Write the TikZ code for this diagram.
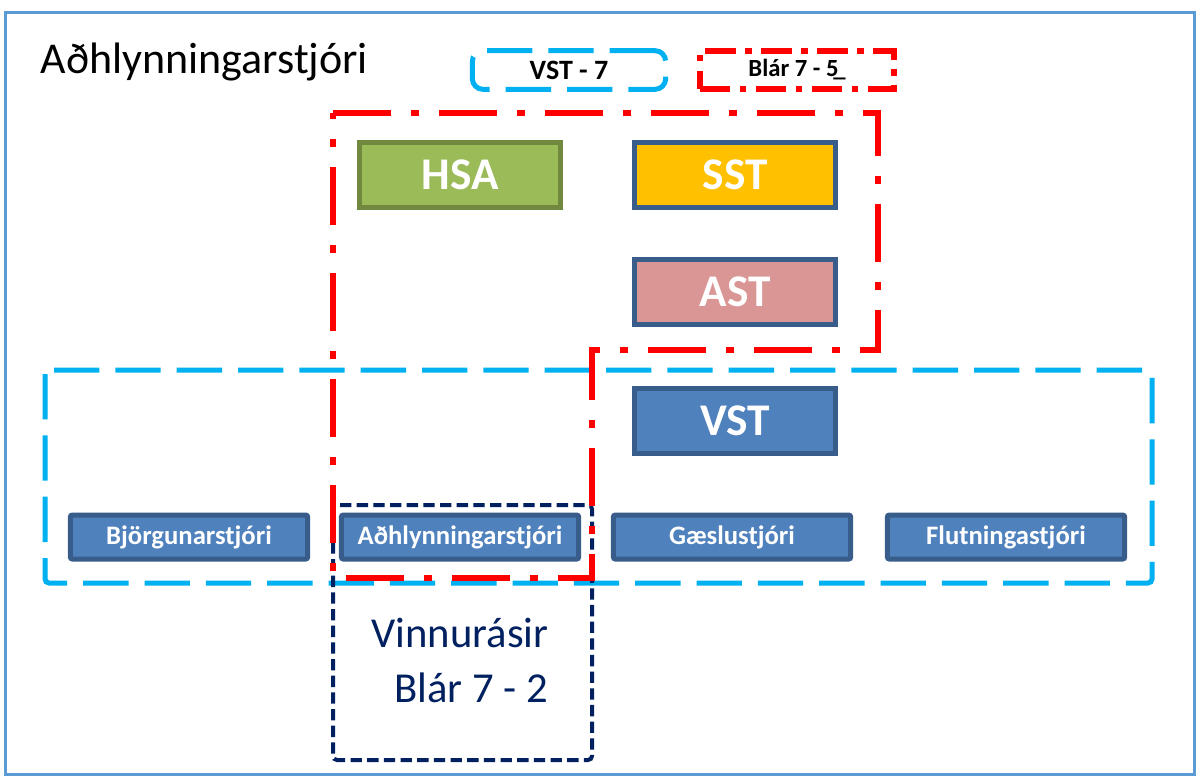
\documentclass[tikz,border=0pt]{standalone}
\usepackage{fontspec}
\setmainfont{Carlito}
\definecolor{frameC}{HTML}{5B9BD5}
\definecolor{vstC}{HTML}{00B0F0}
\definecolor{blarC}{HTML}{FF0000}
\definecolor{rasC}{HTML}{002060}
\definecolor{edgeC}{HTML}{385D8A}
\definecolor{roleC}{HTML}{4F81BD}
\definecolor{hsaC}{HTML}{9BBB59}
\definecolor{hsaEdge}{HTML}{71893F}
\definecolor{sstC}{HTML}{FFC000}
\definecolor{astC}{HTML}{D99694}

\tikzset{
  vstline/.style={draw=vstC, line width=3.75pt, dash pattern=on 34pt off 12pt},
  blarline/.style={draw=blarC, line width=4.5pt, dash pattern=on 43.5pt off 15pt on 6pt off 15pt},
  rasline/.style={draw=rasC, line width=3pt, dash pattern=on 8.5pt off 4pt},
  bigbox/.style={draw=edgeC, line width=3.75pt, shape=rectangle, text=white,
    minimum width=150.75pt, minimum height=48.75pt, font=\fontsize{34}{36}\selectfont\bfseries},
  rolebox/.style={draw=edgeC, fill=roleC, line width=3.75pt, shape=rectangle, rounded corners=1.5pt,
    text=white, minimum width=178pt, minimum height=33pt, font=\fontsize{20}{22}\selectfont\bfseries},
}

\begin{document}
\begin{tikzpicture}[x=0.75pt,y=-0.75pt]
\useasboundingbox (0,0) rectangle (1198,778);
\draw[frameC, line width=2.25pt] (5,12) rectangle (1194,774);

\node[anchor=west, font=\fontsize{33}{36}\selectfont] (title) at (36,62) {Aðhlynningarstjóri};

% legend
\node[vstline, rounded corners=8pt, minimum width=145pt, minimum height=29pt,
  font=\fontsize{21}{23}\selectfont\bfseries] (vst7) at (569,70) {VST - 7};
\node[draw=blarC, line width=4.5pt, dash pattern=on 23pt off 7pt on 5pt off 7pt,
  minimum width=146pt, minimum height=29pt,
  font=\fontsize{18.5}{21}\selectfont\bfseries] (blar5) at (797,70) {Blár 7 - 5\kern-4pt\_};

% areas
\draw[vstline, rounded corners=3pt] (45,370) rectangle (1152,583);
\draw[rasline, rounded corners=3pt] (333,505) rectangle (592,760);
\draw[blarline] (333,113) -- (878,113) -- (878,350) -- (592,350)
  -- (592,578) -- (333,578) -- cycle;

% commanders
\node[bigbox, draw=hsaEdge, fill=hsaC] (hsa) at (460,175) {HSA};
\node[bigbox, fill=sstC] (sst) at (735,175) {SST};
\node[bigbox, fill=astC] (ast) at (735,292) {AST};
\node[bigbox, fill=roleC] (vst) at (735,421) {VST};

\node[rolebox] (bjorg) at (189,537) {Björgunarstjóri};
\node[rolebox] (adhl) at (460,537) {Aðhlynningarstjóri};
\node[rolebox] (gaesla) at (732,537) {Gæslustjóri};
\node[rolebox] (flutn) at (1006,537) {Flutningastjóri};

\node[text=rasC, font=\fontsize{32}{36}\selectfont] (vinnu) at (460,633) {Vinnurásir};
\node[text=rasC, font=\fontsize{32}{36}\selectfont] (blar2) at (471,688) {Blár 7 - 2};

\end{tikzpicture}
\end{document}
